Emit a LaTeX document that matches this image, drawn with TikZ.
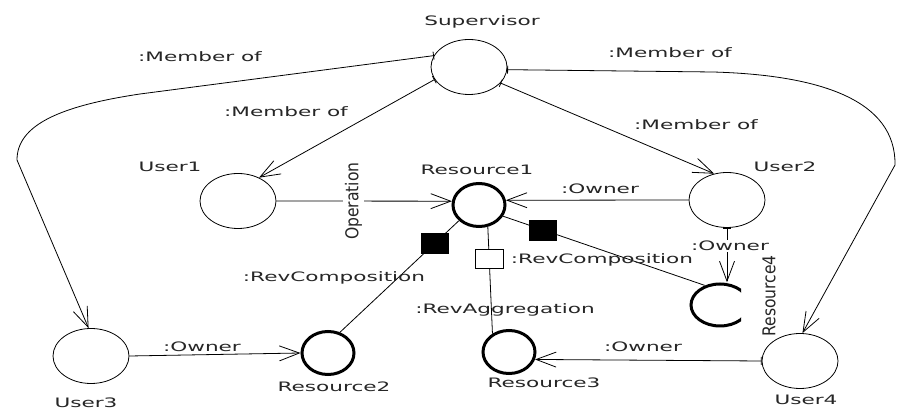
\documentclass[tikz,border=0pt]{standalone}
\usepackage{graphicx}
\usepackage{fontspec}
\setmainfont{DejaVu Sans}
\usetikzlibrary{shapes.geometric,arrows.meta}

% horizontally widened text, and text set along a vertical axis
\newcommand{\wide}[1]{\scalebox{1.66}[1]{#1}}
\newcommand{\upright}[1]{\scalebox{1.2}[1.36]{#1}}

\tikzset{
  user/.style={draw, ellipse, line width=0.8pt, minimum width=76pt, minimum height=55pt, inner sep=0pt},
  res/.style={draw, ellipse, line width=3pt, minimum width=52pt, minimum height=43pt, inner sep=0pt},
  ghost/.style={ellipse, minimum width=61pt, minimum height=45pt, inner sep=0pt},
  lbl/.style={font=\fontsize{13}{15}\selectfont, inner sep=1pt, text=black!85},
  link/.style={line width=0.8pt, -{Straight Barb[length=20pt,width=15pt]}},
  tlink/.style={line width=0.8pt, {Bar[width=8pt]}-{Straight Barb[length=20pt,width=15pt]}},
  plain/.style={line width=0.8pt},
  comp/.style={draw, fill=black, line width=0.8pt, minimum width=27pt, minimum height=20pt, inner sep=0pt},
  aggr/.style={draw, fill=white, line width=0.8pt, minimum width=28pt, minimum height=19pt, inner sep=0pt},
}

\begin{document}
\begin{tikzpicture}[x=1pt, y=-1pt]
\useasboundingbox[fill=white] (0,0) rectangle (897,411);

% actors
\node[user] (sup) at (469,67) {};
\node[user] (u1) at (238,201) {};
\node[user] (u2) at (727,200) {};
\node[user] (u3) at (91,356) {};
\node[user] (u4) at (800,361) {};

% resources
\node[res] (r1) at (479,205) {};
\node[res] (r2) at (328,353) {};
\node[res] (r3) at (509,352) {};
\node[ghost] (r4) at (720,305) {};
\begin{scope}
  \clip (680,270) rectangle (741,340);
  \draw[line width=3pt] (720,305) ellipse [x radius=29pt, y radius=21pt];
\end{scope}

% names
\node[lbl] (tsup) at (482,22) {\wide{Supervisor}};
\node[lbl] (tu1) at (170,167) {\wide{User1}};
\node[lbl] (tu2) at (785,167) {\wide{User2}};
\node[lbl] (tu3) at (86,403) {\wide{User3}};
\node[lbl] (tu4) at (806,400) {\wide{User4}};
\node[lbl] (tr1) at (477,170) {\wide{Resource1}};
\node[lbl] (tr2) at (334,387) {\wide{Resource2}};
\node[lbl] (tr3) at (544,383) {\wide{Resource3}};

% membership links
\draw[tlink] (sup.162) -- (140,94) .. controls (60,106) and (17,125) .. (17,160) -- (u3.95);
\draw[tlink] (sup.-4) -- (713,72) .. controls (820,75) and (896,100) .. (895,165) -- (u4.85);
\draw[tlink] (sup.200) -- (u1.48);
\draw[tlink] (sup.-27) -- (u2.116);
\node[lbl] (m1) at (200,57) {\wide{:Member of}};
\node[lbl] (m2) at (286,112) {\wide{:Member of}};
\node[lbl] (m3) at (670,53) {\wide{:Member of}};
\node[lbl] (m4) at (696,125) {\wide{:Member of}};

% operation and ownership
\draw[link] (u1.east) -- node[lbl, fill=white, rotate=90, inner sep=2pt, pos=0.44] (op) {\upright{Operation}} (r1.172);
\draw[link] (u2.west) -- (r1.10);
\node[lbl] (o1) at (600,189) {\wide{:Owner}};
\draw[tlink] (u2.south) -- (u2.south |- r4.north);
\node[lbl, fill=white] (o2) at (730,246) {\wide{:Owner}};
\draw[link] (u3.east) -- (r2.west);
\node[lbl] (o3) at (202,347) {\wide{:Owner}};
\draw[tlink] (u4.west) -- (r3.-16);
\node[lbl] (o4) at (643,347) {\wide{:Owner}};

% composition and aggregation
\draw[plain] (r1.218) -- node[comp, pos=0.2] (c1) {} (r2.60);
\draw[plain] (r1.-25) -- node[comp, pos=0.2] (c2) {} (r4.128);
\draw[plain] (r1.-68) -- node[aggr, pos=0.3] (a1) {} (r3.132);
\node[lbl] (rc1) at (334,278) {\wide{:RevComposition}};
\node[lbl] (rc2) at (602,260) {\wide{:RevComposition}};
\node[lbl] (ra1) at (505,310) {\wide{:RevAggregation}};
\node[lbl, rotate=90] (tr4) at (769,296) {\upright{Resource4}};
\end{tikzpicture}
\end{document}
